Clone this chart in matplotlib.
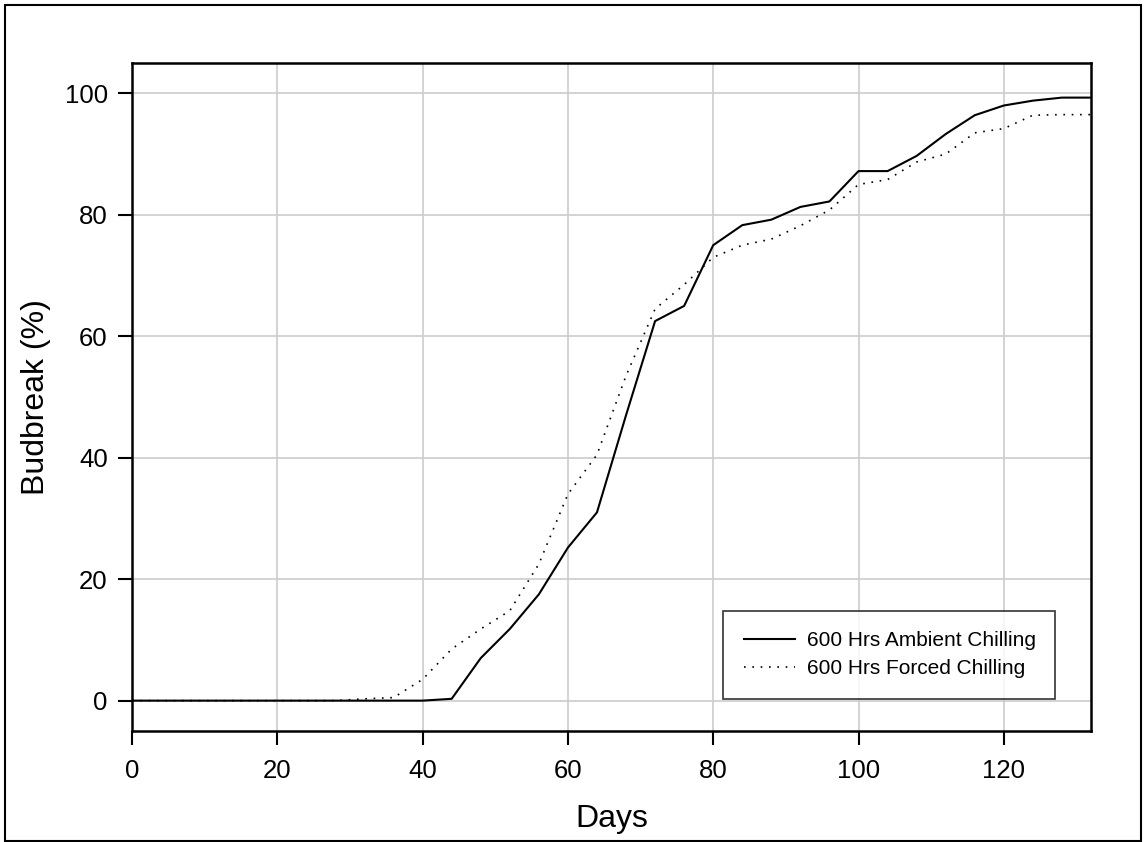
import matplotlib
matplotlib.use("Agg")
from matplotlib import pyplot as plt
from matplotlib.patches import Rectangle

plt.rcParams['font.family'] = ['Liberation Sans', 'DejaVu Sans']

days = list(range(0, 133, 4))
ambient = [0, 0, 0, 0, 0, 0, 0, 0, 0, 0, 0, 0.3, 7.0, 11.8, 17.5, 25.2, 31.0,
           47.0, 62.5, 65.0, 75.0, 78.3, 79.2, 81.3, 82.2, 87.2, 87.2, 89.7,
           93.3, 96.4, 98.0, 98.8, 99.3, 99.3]
forced = [0, 0, 0, 0, 0, 0, 0, 0, 0.3, 0.5, 3.5, 8.5, 11.8, 14.8, 22.5, 34.0,
          40.5, 53.5, 64.5, 68.5, 73.0, 75.0, 76.0, 78.2, 80.8, 85.0, 85.8,
          88.7, 90.0, 93.5, 94.2, 96.4, 96.5, 96.5]

fig = plt.figure(figsize=(11.46, 8.42), dpi=100)
ax = fig.add_axes([132/1146, 1 - 731/842, 959/1146, 668/842])

ax.plot(days, ambient, color='black', linewidth=1.5, label='600 Hrs Ambient Chilling')
ax.plot(days, forced, color='black', linewidth=1.2, linestyle=(0, (1, 4)),
        label='600 Hrs Forced Chilling')

ax.set_xlim(0, 132)
ax.set_ylim(-5, 105)
ax.set_xticks(range(0, 121, 20))
ax.set_yticks(range(0, 101, 20))
ax.grid(True, color='#cccccc', linewidth=1.2)
ax.set_axisbelow(True)
ax.tick_params(direction='out', length=10, width=1.5, labelsize=18.5)
ax.tick_params(axis='x', pad=10)
ax.tick_params(axis='y', pad=7.5)
for s in ax.spines.values():
    s.set_linewidth(1.8)

ax.set_xlabel('Days', fontsize=23, labelpad=15)
ax.set_ylabel('Budbreak (%)', fontsize=23, labelpad=9.5)

leg = ax.legend(loc='lower left', bbox_to_anchor=(0.616, 0.048, 0.346, 0.132),
                mode='expand', borderaxespad=0, fontsize=15, frameon=True,
                fancybox=False, borderpad=1.0, handlelength=2.45,
                handletextpad=0.6, labelspacing=0.42)
leg.get_frame().set_edgecolor('black')
leg.get_frame().set_linewidth(1.2)

fig.patches.append(Rectangle((5/1146, 1/842), 1136/1146, 836/842,
                             transform=fig.transFigure, fill=False,
                             edgecolor='black', linewidth=1.5))

fig.savefig('out.png', dpi=100)
